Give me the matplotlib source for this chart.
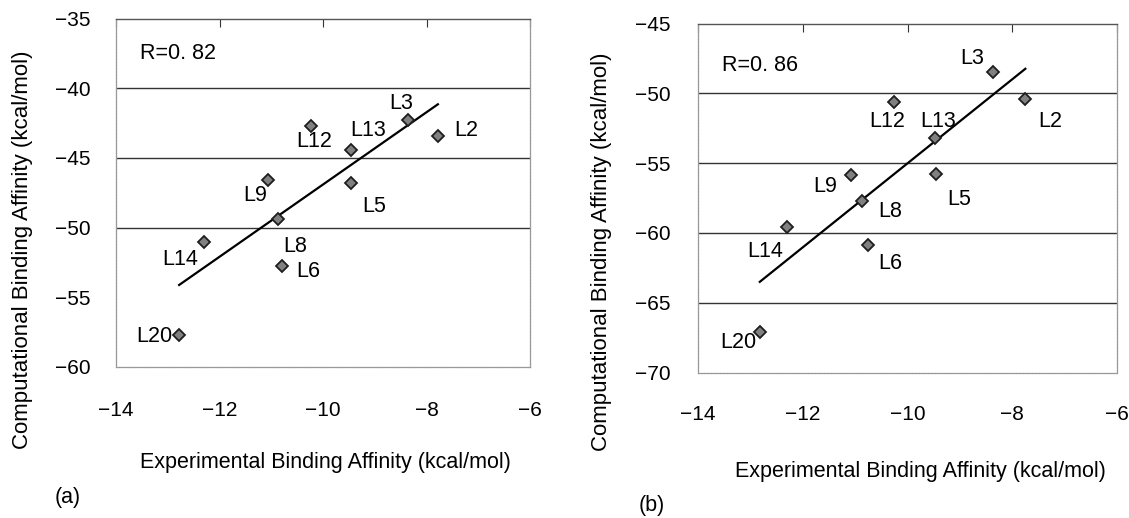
import numpy as np
import matplotlib
matplotlib.use("Agg")
import matplotlib.pyplot as plt

plt.rcParams['font.family'] = ['Liberation Sans', 'DejaVu Sans']

# ---------------- data ----------------
ligands = ["L2", "L3", "L5", "L6", "L8", "L9", "L12", "L13", "L14", "L20"]

exp_a = [-7.78, -8.35, -9.46, -10.79, -10.87, -11.06, -10.24, -9.45, -12.29, -12.78]
comp_a = [-43.4, -42.3, -46.8, -52.75, -49.4, -46.6, -42.7, -44.4, -51.0, -57.7]

exp_b = [-7.75, -8.375, -9.45, -10.76, -10.875, -11.08, -10.25, -9.47, -12.31, -12.82]
comp_b = [-50.4, -48.5, -55.8, -60.9, -57.7, -55.86, -50.6, -53.2, -59.55, -67.1]

r_a = "R=0. 82"
r_b = "R=0. 86"

xticks = [-14, -12, -10, -8, -6]
yticks_a = [-60, -55, -50, -45, -40, -35]
yticks_b = [-70, -65, -60, -55, -50, -45]
grid_a = [-40, -45, -50]
grid_b = [-50, -55, -60, -65]

xlabel = "Experimental Binding Affinity (kcal/mol)"
ylabel = "Computational Binding Affinity (kcal/mol)"

# label offsets in pixels (dx right, dy up)
off_a = {"L2": (28, 5), "L3": (-7, 17), "L5": (23, -24), "L6": (26, -6),
         "L8": (17, -27), "L9": (-13, -15), "L12": (4, -16), "L13": (17, 19),
         "L14": (-24, -18), "L20": (-25, -2)}
off_b = {"L2": (25, -23), "L3": (-20, 14), "L5": (23, -25), "L6": (23, -18),
         "L8": (29, -11), "L9": (-26, -11), "L12": (-7, -20), "L13": (3, 16),
         "L14": (-21, -25), "L20": (-21, -10)}

W, H = 1129, 518
fig = plt.figure(figsize=(W / 100, H / 100), dpi=100)


def panel(rect, xs, ys, yticks, grid, offs, rtext, rpos, xl_pos, yl_pos, tag, tag_pos, xpad, ypad):
    ax = fig.add_axes(rect)
    ax.set_xlim(-14, -6)
    ax.set_ylim(yticks[0], yticks[-1])
    ax.set_xticks(xticks)
    ax.set_yticks(yticks)
    ax.set_xticklabels([f"\u2212{abs(v)}" for v in xticks])
    ax.set_yticklabels([f"\u2212{abs(v)}" for v in yticks])
    ax.tick_params(axis='x', bottom=False, top=True, labelbottom=True, labeltop=False,
                   direction='in', length=6, width=0.8, pad=xpad, labelsize=15, color='#333333')
    ax.tick_params(axis='y', left=False, right=False, pad=ypad, labelsize=15)
    for g in grid:
        ax.axhline(g, color='#333333', lw=1.0, zorder=1)
    for s in ['left', 'right', 'bottom']:
        ax.spines[s].set_color('#999999')
        ax.spines[s].set_linewidth(0.9)
        ax.spines[s].set_linestyle((0, (2, 0.6)))
    ax.spines['top'].set_color('#555555')
    ax.spines['top'].set_linewidth(1.0)

    xs = np.array(xs)
    ys = np.array(ys)
    k, b = np.polyfit(xs, ys, 1)
    xx = np.array([xs.min(), xs.max()])
    ax.plot(xx, k * xx + b, color='black', lw=1.6, zorder=2)
    ax.plot(xs, ys, linestyle='none', marker='D', markersize=6,
            markerfacecolor='#808080', markeredgecolor='#1e1e1e', markeredgewidth=1.3, zorder=3)
    for name, x, y in zip(ligands, xs, ys):
        dx, dy = offs[name]
        ax.annotate(name, (x, y), xytext=(dx, dy), textcoords='offset pixels',
                    ha='center', va='center', fontsize=15.5)
    ax.text(rpos[0], rpos[1], rtext, transform=ax.transAxes, ha='left', va='center', fontsize=15.5)
    ax.set_xlabel(xlabel, fontsize=15.5, va='center')
    ax.set_ylabel(ylabel, fontsize=16)
    ax.xaxis.set_label_coords(*xl_pos)
    ax.yaxis.set_label_coords(*yl_pos)
    fig.text(tag_pos[0] / W, 1 - tag_pos[1] / H, tag, ha='center', va='center', fontsize=15.5)
    return ax


panel([116 / W, 1 - 367 / H, 414 / W, 348.5 / H], exp_a, comp_a, yticks_a, grid_a, off_a,
      r_a, (0.058, 0.90), (0.505, -0.273), (-0.20, 0.336), "(a)", (68, 497), 24.5, 15)
panel([698 / W, 1 - 372.5 / H, 419 / W, 349 / H], exp_b, comp_b, yticks_b, grid_b, off_b,
      r_b, (0.057, 0.881), (0.53, -0.285), (-0.205, 0.345), "(b)", (652, 506), 23.5, 16.5)

fig.savefig("out.png", dpi=100)
